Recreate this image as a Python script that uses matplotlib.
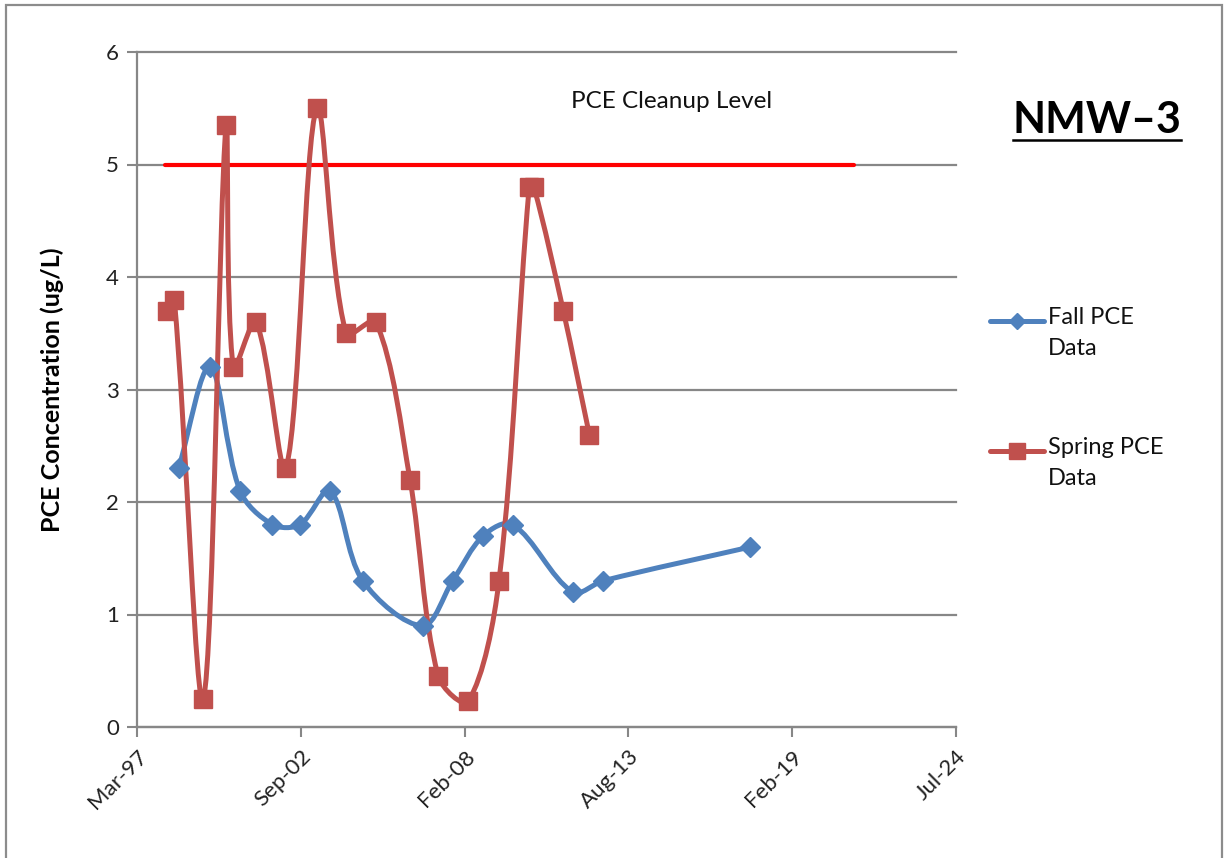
import matplotlib
matplotlib.use("Agg")
import matplotlib.pyplot as plt
import matplotlib.dates as mdates
import matplotlib.patches as patches
from matplotlib.path import Path
from matplotlib.lines import Line2D
import numpy as np

# -------------------------- Data --------------------------
fall_dates = ["1998-08-01", "1999-08-20", "2000-08-20", "2001-09-20", "2002-08-22",
              "2003-08-24", "2004-09-26", "2006-09-28", "2007-09-30", "2008-10-07",
              "2009-10-01", "2011-10-04", "2012-10-12", "2017-09-10"]
fall_pce = [2.3, 3.2, 2.1, 1.8, 1.8, 2.1, 1.3, 0.9, 1.3, 1.7, 1.8, 1.2, 1.3, 1.6]

spring_dates = ["1998-03-12", "1998-06-09", "1999-05-30", "2000-03-02", "2000-05-30",
                "2001-03-03", "2002-03-05", "2003-03-14", "2004-03-06", "2005-03-07",
                "2006-04-26", "2007-04-07", "2008-04-07", "2009-04-17", "2010-04-21",
                "2010-06-17", "2011-06-11", "2012-04-24"]
spring_pce = [3.7, 3.8, 0.25, 5.35, 3.2, 3.6, 2.3, 5.5, 3.5, 3.6,
              2.2, 0.45, 0.23, 1.3, 4.8, 4.8, 3.7, 2.6]

cleanup_dates = ["1998-02-15", "2021-03-01"]
cleanup_level = [5, 5]

x_ticks = ["1997-03-11", "2002-09-01", "2008-02-22", "2013-08-14", "2019-02-04", "2024-07-27"]

# -------------------------- Style --------------------------
blue = "#4F81BD"
red = "#C0504D"
gray = "#878787"
plt.rcParams["font.family"] = ["Lato", "DejaVu Sans"]


def to_num(ds):
    return mdates.date2num(np.array(ds, dtype="datetime64[D]"))


def smooth_path(ax, xs, ys):
    # Excel-like smoothed line, built in screen space: Bezier control points
    # along the neighbour direction, weighted by the segment lengths
    pts = ax.transData.transform(np.column_stack([xs, ys]))
    n = len(pts)
    verts = [pts[0]]
    for i in range(n - 1):
        p0 = pts[max(i - 1, 0)]
        p1 = pts[i]
        p2 = pts[i + 1]
        p3 = pts[min(i + 2, n - 1)]
        d01 = np.hypot(*(p1 - p0))
        d12 = np.hypot(*(p2 - p1))
        d23 = np.hypot(*(p3 - p2))
        f1 = d12 / (d01 + d12) / 3.0 if d01 + d12 > 0 else 0
        f2 = d12 / (d12 + d23) / 3.0 if d12 + d23 > 0 else 0
        verts += [p1 + (p2 - p0) * f1, p2 - (p3 - p1) * f2, p2]
    verts = ax.transData.inverted().transform(np.array(verts))
    codes = [Path.MOVETO] + [Path.CURVE4] * (len(verts) - 1)
    return Path(verts, codes)


fig = plt.figure(figsize=(12.31, 8.58), dpi=100)
ax = fig.add_axes([137 / 1231, 131 / 858, 819 / 1231, 675 / 858])

fx, sx, cx = to_num(fall_dates), to_num(spring_dates), to_num(cleanup_dates)
xt = to_num(x_ticks)
ax.set_xlim(xt[0], xt[-1])
ax.set_ylim(0, 6)

# cleanup level
ax.plot(cx, cleanup_level, color="#FF0000", lw=3.0, solid_capstyle="round", zorder=3)

# smoothed series
for xs, ys, c, z in [(fx, fall_pce, blue, 4), (sx, spring_pce, red, 5)]:
    ax.add_patch(patches.PathPatch(smooth_path(ax, xs, ys), fill=False, edgecolor=c, lw=3.6,
                                   capstyle="round", joinstyle="round", zorder=z))
ax.plot(fx, fall_pce, ls="none", marker="D", ms=10, color=blue, zorder=6)
ax.plot(sx, spring_pce, ls="none", marker="s", ms=13.5, color=red, zorder=7)

# axes
ax.set_xticks(xt)
ax.xaxis.set_major_formatter(mdates.DateFormatter("%b-%y"))
ax.set_yticks(range(7))

for s in ["top", "right"]:
    ax.spines[s].set_visible(False)
for s in ["left", "bottom"]:
    ax.spines[s].set_color(gray)
    ax.spines[s].set_linewidth(1.6)
ax.yaxis.grid(True, color=gray, lw=1.6)
for gl in ax.get_ygridlines():
    gl.set_clip_on(False)
ax.set_axisbelow(True)

ax.tick_params(axis="y", length=7, width=1.5, color=gray, pad=6, labelsize=16, labelcolor="#222222")
ax.tick_params(axis="x", length=7, width=1.5, color=gray, pad=7, labelsize=16, labelcolor="#222222")
for lab in ax.get_xticklabels():
    lab.set_rotation(45)
    lab.set_ha("right")
    lab.set_va("top")
    lab.set_rotation_mode("anchor")

ax.set_ylabel("PCE Concentration (ug/L)", fontsize=18, fontweight="bold", labelpad=30)

ax.text(0.653, 0.927, "PCE Cleanup Level", transform=ax.transAxes, ha="center", va="center",
        fontsize=17.5, color="#111111")

# title with underline
t = fig.text(1097 / 1231, 1 - 120 / 858, "NMW\u20133", ha="center", va="center",
             fontsize=31, fontweight="bold", color="black")
fig.canvas.draw()
bb = t.get_window_extent()
fig.add_artist(Line2D([bb.x0 / 1231, bb.x1 / 1231], [1 - 140 / 858, 1 - 140 / 858],
                      color="black", lw=1.8))

# legend drawn by hand so the handle sits on the first text line
entries = [("Fall PCE\nData", blue, "D", 8, 321), ("Spring PCE\nData", red, "s", 12, 451)]
for label, c, m, ms, ypix in entries:
    yf = 1 - ypix / 858
    fig.add_artist(Line2D([990 / 1231, 1044 / 1231], [yf, yf], color=c, lw=3.6,
                          solid_capstyle="round"))
    fig.add_artist(Line2D([1017 / 1231], [yf], color=c, marker=m, ms=ms, ls="none"))
    fig.text(1048 / 1231, yf + 14 / 858, label, ha="left", va="top", fontsize=17,
             color="#111111", linespacing=1.6)

# chart area border
fig.add_artist(patches.Rectangle((6 / 1231, -0.02), 1216 / 1231, 1 - 5 / 858 + 0.02,
                                 fill=False, edgecolor="#8C8C8C", lw=1.6,
                                 transform=fig.transFigure))

fig.savefig("out.png", dpi=100)
